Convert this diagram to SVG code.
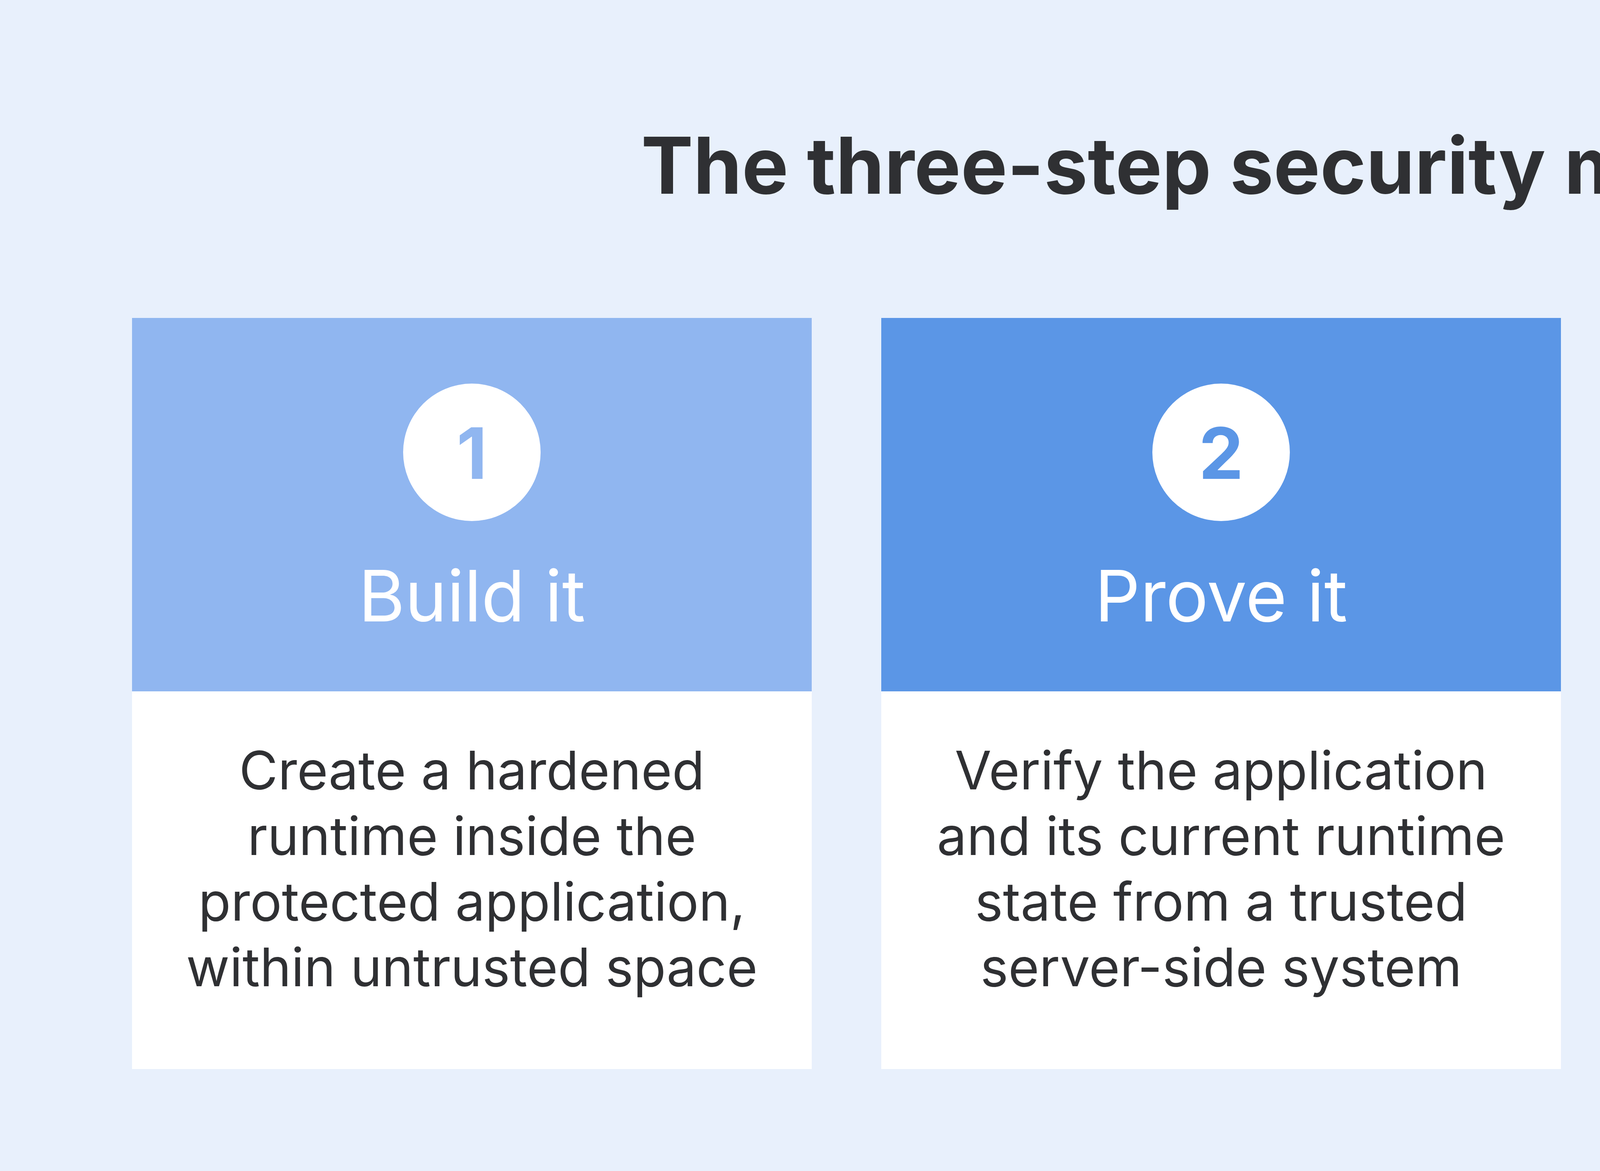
<svg xmlns="http://www.w3.org/2000/svg" width="6250" height="2998" viewBox="0 0 6250 2998">
<style>
.t{font-family:Inter,"Liberation Sans",sans-serif;text-anchor:middle}
.title{font-size:200px;font-weight:700;fill:#2F3033}
.num{font-size:182px;font-weight:700}
.head{font-size:182px;fill:#FFFFFF}
.body{font-size:136px;fill:#2F3033}
</style>
<rect width="6250" height="2998" fill="#E8F0FC"/>
<text class="t title" x="3125" y="496">The three-step security model</text>
<g id="step1">
<rect x="338" y="814" width="1740" height="956" fill="#90B6F0"/>
<rect x="338" y="1770" width="1740" height="967" fill="#FFFFFF"/>
<circle cx="1208" cy="1158" r="176" fill="#FFFFFF"/>
<text class="t num" x="1208" y="1226" fill="#90B6F0">1</text>
<text class="t head" x="1208" y="1591">Build it</text>
<text class="t body" x="1208" y="2021">Create a hardened</text>
<text class="t body" x="1208" y="2189">runtime inside the</text>
<text class="t body" x="1208" y="2357">protected application,</text>
<text class="t body" x="1208" y="2525">within untrusted space</text>
</g>
<g id="step2">
<rect x="2256" y="814" width="1740" height="956" fill="#5B96E6"/>
<rect x="2256" y="1770" width="1740" height="967" fill="#FFFFFF"/>
<circle cx="3126" cy="1158" r="176" fill="#FFFFFF"/>
<text class="t num" x="3126" y="1226" fill="#5B96E6">2</text>
<text class="t head" x="3126" y="1591">Prove it</text>
<text class="t body" x="3126" y="2021">Verify the application</text>
<text class="t body" x="3126" y="2189">and its current runtime</text>
<text class="t body" x="3126" y="2357">state from a trusted</text>
<text class="t body" x="3126" y="2525">server-side system</text>
</g>
<g id="step3">
<rect x="4174" y="814" width="1740" height="956" fill="#0B72E0"/>
<rect x="4174" y="1770" width="1740" height="967" fill="#FFFFFF"/>
<circle cx="5044" cy="1158" r="176" fill="#FFFFFF"/>
<text class="t num" x="5044" y="1226" fill="#0B72E0">3</text>
<text class="t head" x="5044" y="1591">Release the data</text>
<text class="t body" x="5044" y="2021">Allow sensitive</text>
<text class="t body" x="5044" y="2189">responses or actions</text>
<text class="t body" x="5044" y="2357">only when the required</text>
<text class="t body" x="5044" y="2525">proof is present</text>
</g>
<g id="connectors"/>
</svg>
